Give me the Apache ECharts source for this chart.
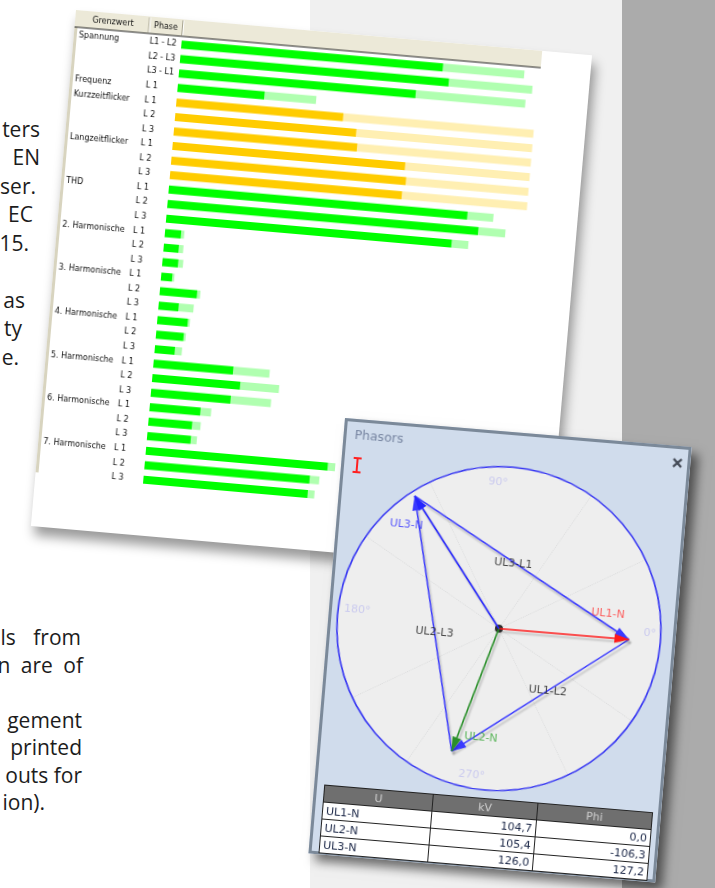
<!DOCTYPE html>
<html>
<head>
<meta charset="utf-8">
<script src="https://cdn.jsdelivr.net/npm/echarts@6/dist/echarts.min.js"></script>
<style>
html,body{margin:0;padding:0;width:715px;height:888px;overflow:hidden;background:#ffffff;}
body{position:relative;}
#band{position:absolute;left:310px;top:0;width:312px;height:888px;background:#f0f0f0;}
#dark{position:absolute;left:622px;top:0;width:93px;height:888px;background:#ababab;}
.frag{position:absolute;font-family:'Open Sans';font-size:21px;color:#1c1c1c;white-space:pre;line-height:28px;}
#barPanel{position:absolute;left:76px;top:10px;width:518px;height:518px;background:#ffffff;transform-origin:0 0;transform:rotate(5deg);box-shadow:4px 9px 12px rgba(0,0,0,0.4);z-index:2;}
#barChart{position:absolute;left:0;top:0;width:518px;height:518px;}
#phPanel{position:absolute;left:345.4px;top:417.9px;width:348px;height:437px;background:#d0dcec;transform-origin:0 0;transform:rotate(4.8deg);box-shadow:7px 7px 10px rgba(0,0,0,0.55);z-index:3;}
#phChart{position:absolute;left:0;top:0;width:348px;height:437px;}
#tbl{position:absolute;left:10px;top:367px;width:330px;border-collapse:collapse;font-family:'DejaVu Sans';font-size:11px;z-index:4;background:#fff;}
#tbl th{background:#6f6f6f;color:#cfcfcf;font-weight:normal;height:16px;padding:0 3px;border:1px solid #222;text-align:center;}
#tbl td{height:16px;padding:0 3px;border:1px solid #222;color:#1b2747;}
#tbl td.n{text-align:right;}
</style>
</head>
<body>
<div id="band"></div>
<div id="dark"></div>
<div id="frags"></div>
<div id="barPanel"><div id="barChart"></div></div>
<div id="phPanel"><div id="phChart"></div><table id="tbl"></table></div>
<script>
// ---------- data: limit bars ----------
const rowGroup = ['Spannung','','','Frequenz','Kurzzeitflicker','','','Langzeitflicker','','','THD','','',
  '2. Harmonische','','','3. Harmonische','','','4. Harmonische','','','5. Harmonische','','',
  '6. Harmonische','','','7. Harmonische','',''];
const rowPhase = ['L1 - L2','L2 - L3','L3 - L1','L 1','L 1','L 2','L 3','L 1','L 2','L 3','L 1','L 2','L 3',
  'L 1','L 2','L 3','L 1','L 2','L 3','L 1','L 2','L 3','L 1','L 2','L 3','L 1','L 2','L 3','L 1','L 2','L 3'];
const rowValue = [73.2,75.2,66.3,24.3, 46.7,50.7,51.3, 65.1,65.7,64.9, 83.6,87.0,79.9,
  4.5,4.2,4.4, 3.1,10.4,5.6, 8.5,7.7,5.6, 22.3,24.6,22.3, 14.2,12.2,12.2, 50.9,46.2,46.0];
const rowMax = [96.0,98.6,97.0,38.8, 100,100,100, 100,100,100, 90.9,94.6,84.6,
  5.4,5.5,5.8, 3.7,11.3,9.8, 9.1,8.3,7.6, 32.5,35.5,33.6, 17.2,14.6,13.9, 53.0,48.9,47.9];
const flickerGroups = ['Kurzzeitflicker','Langzeitflicker'];
const headerLabels = ['Grenzwert','Phase'];

// ---------- data: phasors ----------
const phasorNames = ['UL1-N','UL2-N','UL3-N'];
const phasorKV = [104.7,105.4,126.0];
const phasorPhi = [0.0,-106.3,127.2];
const lineNames = ['UL1-L2','UL2-L3','UL3-L1'];
const angleLabelTicks = [0,90,180,270];

// ---------- page text fragments ----------
const fragments = [
  ['ters',40,137.5,0],['EN',40,166,0],['ser.',36,194.5,0],['EC',33,223,0],['15.',29,251.5,0],
  ['as',25,308.5,0],['ty',22,337,0],['e.',19,365.5,0],
  ['ls from',81,646,12],['n are of',83,673.5,5],['gement',82,728.5,0],['printed',82,756,0],
  ['outs for',82,783.5,0],['ion).',45,811,0]
];
const fr = document.getElementById('frags');
fragments.forEach(f => {
  const d = document.createElement('div');
  d.className = 'frag';
  d.textContent = f[0];
  d.style.right = (715 - f[1]) + 'px';
  d.style.top = (f[2] - 23) + 'px';
  d.style.wordSpacing = f[3] + 'px';
  fr.appendChild(d);
});

// ---------- bar chart ----------
const groupOfRow = [];
rowGroup.forEach((g,i) => groupOfRow.push(g || groupOfRow[i-1]));
const isFlicker = i => flickerGroups.indexOf(groupOfRow[i]) >= 0;
const cats = rowPhase.map((p,i) => String(i));
const barFont = {fontFamily:'DejaVu Sans',fontSize:8,color:'#111'};

const bar = echarts.init(document.getElementById('barChart'), null, {renderer:'canvas'});
bar.setOption({
  animation:false,
  grid:{left:108,right:51.5,top:17.9,height:451.4},
  xAxis:{type:'value',min:0,max:100,show:false},
  yAxis:[
    {type:'category',inverse:true,data:cats,position:'left',axisLine:{show:false},axisTick:{show:false},splitLine:{show:false},
      axisLabel:Object.assign({interval:0,align:'left',margin:103,formatter:(v)=>rowGroup[+v]},barFont)},
    {type:'category',inverse:true,data:cats,position:'left',axisLine:{show:false},axisTick:{show:false},splitLine:{show:false},
      axisLabel:Object.assign({interval:0,align:'left',margin:32,formatter:(v)=>rowPhase[+v]},barFont)}
  ],
  series:[
    {type:'bar',yAxisIndex:0,barWidth:8,barGap:'-100%',silent:true,
      data:rowMax.map((v,i)=>({value:v,itemStyle:{color:isFlicker(i)?'#ffefb2':'#b0ffb0'}}))},
    {type:'bar',yAxisIndex:0,barWidth:8,barGap:'-100%',
      data:rowValue.map((v,i)=>({value:v,itemStyle:{color:isFlicker(i)?'#ffcc00':'#00ff00'}}))}
  ],
  graphic:[
    {type:'rect',shape:{x:0,y:0,width:3,height:464},style:{fill:'#d8d4bf'}},
    {type:'rect',shape:{x:0,y:0,width:468,height:17},style:{fill:'#ece9d8'}},
    {type:'line',shape:{x1:74,y1:1,x2:74,y2:16},style:{stroke:'#a7a390',lineWidth:1}},
    {type:'line',shape:{x1:75,y1:1,x2:75,y2:16},style:{stroke:'#ffffff',lineWidth:1}},
    {type:'line',shape:{x1:107.5,y1:1,x2:107.5,y2:16},style:{stroke:'#a7a390',lineWidth:1}},
    {type:'line',shape:{x1:108.5,y1:1,x2:108.5,y2:16},style:{stroke:'#ffffff',lineWidth:1}},
    {type:'line',shape:{x1:0,y1:17,x2:468,y2:17},style:{stroke:'#222',lineWidth:1}},
    {type:'text',x:38,y:9,style:{text:headerLabels[0],fontFamily:'DejaVu Sans',fontSize:8,fill:'#111',align:'center',verticalAlign:'middle'}},
    {type:'text',x:91,y:9,style:{text:headerLabels[1],fontFamily:'DejaVu Sans',fontSize:8,fill:'#111',align:'center',verticalAlign:'middle'}}
  ]
});

// ---------- phasor chart ----------
const RMAX = 130, CX = 171, CY = 197, RAD = 162;
const LABEL_R = 117;   // radius (kV scale) where the angle labels sit
const toXY = (kv,phi) => [kv*Math.cos(phi*Math.PI/180), kv*Math.sin(phi*Math.PI/180)];
const tips = phasorKV.map((kv,i) => toXY(kv, phasorPhi[i]));
const vecColors = ['#ff1a1a','#2a8f2a','#2525ff'];
const labelColors = ['#ff3b3b','#38a838','#3535ff'];
const vecLabelOffset = [[-23,-24],[28,-16],[-6,29]];
const lineLabelOffset = [[7,-5],[2,9],[-9,-3]];
const angleLabelOffset = [[5,-8],[-13,0],[3,-7],[-15,2]];

const arrowEnd = c => ({coord:c, symbol:'triangle', symbolSize:[9,15], symbolOffset:[0,7]});
const shadow = {shadowColor:'rgba(0,0,0,0.22)',shadowBlur:2,shadowOffsetX:2,shadowOffsetY:3};
const markData = [];
// line-to-line (triangle)
for (let i=0;i<3;i++){
  const a = tips[i], b = tips[(i+1)%3];
  markData.push([{coord:a,symbol:'none',lineStyle:Object.assign({color:'#3a3aff',width:1.5,type:'solid'},shadow)}, arrowEnd(b)]);
}
// phase vectors
for (let i=0;i<3;i++){
  markData.push([{coord:[0,0],symbol:'none',lineStyle:Object.assign({color:vecColors[i],width:1.6,type:'solid'},shadow)}, arrowEnd(tips[i])]);
}
const labelData = [];
for (let i=0;i<3;i++){
  labelData.push({value:tips[i],label:{formatter:phasorNames[i],color:labelColors[i],offset:vecLabelOffset[i]}});
  const a = tips[i], b = tips[(i+1)%3];
  labelData.push({value:[(a[0]+b[0])/2,(a[1]+b[1])/2],label:{formatter:lineNames[i],color:'#1a1a1a',offset:lineLabelOffset[i]}});
}
const angleLabelData = angleLabelTicks.map((a,k) => ({value:[LABEL_R,a],label:{formatter:a+'°',offset:angleLabelOffset[k]}}));

const ph = echarts.init(document.getElementById('phChart'), null, {renderer:'canvas'});
ph.setOption({
  animation:false,
  polar:{center:[CX,CY],radius:RAD},
  angleAxis:{type:'value',min:0,max:360,interval:30,startAngle:0,clockwise:false,
    axisLine:{show:true,lineStyle:{color:'#3636f2',width:1.6}},
    axisTick:{show:false},
    axisLabel:{show:false},
    splitLine:{show:true,lineStyle:{color:'#ababab',width:1}},
    splitArea:{show:true,areaStyle:{color:['#eeeeee','#eeeeee']}}
  },
  radiusAxis:{min:0,max:RMAX,axisLine:{show:false},axisTick:{show:false},axisLabel:{show:false},splitLine:{show:false}},
  grid:{left:CX-RAD,top:CY-RAD,width:2*RAD,height:2*RAD},
  xAxis:{type:'value',min:-RMAX,max:RMAX,show:false},
  yAxis:{type:'value',min:-RMAX,max:RMAX,show:false},
  series:[
    {type:'scatter',coordinateSystem:'polar',data:angleLabelData,symbolSize:1,itemStyle:{color:'transparent'},silent:true,z:2,
      label:{show:true,position:'inside',fontFamily:'DejaVu Sans',fontSize:11,color:'#c2c2ef'}},
    {type:'scatter',data:[[0,0]],symbolSize:8,itemStyle:{color:'#000'},z:4,silent:true,
      markLine:{silent:true,animation:false,symbol:['none','triangle'],
        lineStyle:{type:'solid'},
        label:{show:false},emphasis:{disabled:true},data:markData}},
    {type:'scatter',data:labelData,symbolSize:1,itemStyle:{color:'transparent'},z:5,silent:true,
      label:{show:true,position:'inside',fontFamily:'DejaVu Sans',fontSize:11}}
  ],
  graphic:[
    {type:'rect',shape:{x:1.5,y:1.5,width:345,height:434},style:{fill:'none',stroke:'#7b8999',lineWidth:3}},
    {type:'text',x:11,y:17,style:{text:'Phasors',fontFamily:'DejaVu Sans',fontSize:12.5,fill:'#7886a2',verticalAlign:'middle'}},
    {type:'line',shape:{x1:16,y1:39,x2:16,y2:53},style:{stroke:'#ff2020',lineWidth:2}},
    {type:'line',shape:{x1:12,y1:39,x2:20,y2:39},style:{stroke:'#ff2020',lineWidth:2}},
    {type:'line',shape:{x1:12,y1:53,x2:20,y2:53},style:{stroke:'#ff2020',lineWidth:2}},
    {type:'line',shape:{x1:331,y1:13,x2:339,y2:21},style:{stroke:'#454c58',lineWidth:2.4}},
    {type:'line',shape:{x1:339,y1:13,x2:331,y2:21},style:{stroke:'#454c58',lineWidth:2.4}}
  ]
});

// ---------- table ----------
const fmt = v => v.toFixed(1).replace('.',',');
let html = '<tr><th>U</th><th>kV</th><th>Phi</th></tr>';
phasorNames.forEach((n,i) => {
  html += '<tr><td>'+n+'</td><td class="n">'+fmt(phasorKV[i])+'</td><td class="n">'+fmt(phasorPhi[i])+'</td></tr>';
});
document.getElementById('tbl').innerHTML = html;
</script>
</body>
</html>
